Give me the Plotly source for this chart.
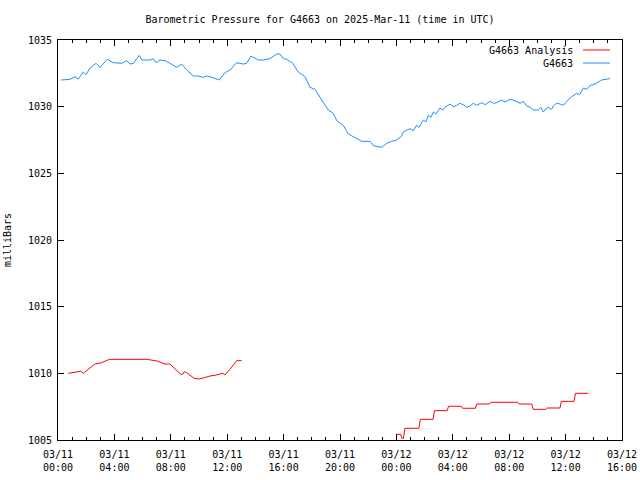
import pandas as pd
import plotly.graph_objects as go

BASE = pd.Timestamp("2025-03-11 00:00")

# G4663 observed (hours since 03/11 00:00 UTC, millibars)
obs_hours = [0.21, 0.85, 1.21, 1.44, 1.79, 1.99, 2.27, 2.70, 2.98, 3.50, 3.92, 4.52, 4.87, 5.11,
             5.34, 5.77, 5.94, 6.52, 6.76, 6.95, 7.23, 7.59, 7.94, 8.42, 8.77, 9.13, 9.60, 9.95,
             10.30, 10.55, 10.78, 11.13, 11.44, 11.84, 12.20, 12.67, 13.14, 13.38, 13.69, 14.21,
             14.56, 15.04, 15.51, 15.74, 15.98, 16.22, 16.65, 17.04, 17.52, 17.87, 18.23, 18.70,
             19.17, 19.52, 19.77, 20.23, 20.59, 20.94, 21.54, 22.13, 22.41, 22.96, 23.31, 23.67,
             24.02, 24.38, 24.49, 24.96, 25.20, 25.44, 25.60, 25.91, 26.10, 26.26, 26.45, 26.62,
             26.80, 27.09, 27.30, 27.45, 27.80, 28.00, 28.28, 28.50, 28.74, 29.00, 29.22, 29.45,
             29.69, 30.05, 30.30, 30.64, 30.90, 31.11, 31.47, 31.70, 32.06, 32.41, 32.77, 33.00,
             33.24, 33.50, 33.71, 34.06, 34.25, 34.42, 34.60, 34.77, 35.00, 35.13, 35.35, 35.60,
             35.85, 36.08, 36.43, 36.79, 37.00, 37.26, 37.50, 37.74, 38.09, 38.56, 39.15]
obs_mb = [1032.0, 1032.05, 1032.25, 1032.07, 1032.6, 1032.4, 1032.9, 1033.25, 1032.95, 1033.55,
          1033.3, 1033.25, 1033.45, 1033.2, 1033.25, 1033.85, 1033.5, 1033.5, 1033.6, 1033.3,
          1033.5, 1033.45, 1033.25, 1032.95, 1033.2, 1032.75, 1032.3, 1032.3, 1032.2, 1032.3,
          1032.25, 1032.1, 1032.0, 1032.55, 1032.75, 1033.3, 1033.2, 1033.25, 1033.8, 1033.5,
          1033.5, 1033.6, 1033.95, 1033.95, 1033.6, 1033.55, 1033.25, 1032.6, 1032.25, 1031.45,
          1031.3, 1030.5, 1029.75, 1029.5, 1028.95, 1028.6, 1027.95, 1027.75, 1027.4, 1027.4,
          1027.05, 1026.95, 1027.25, 1027.4, 1027.5, 1027.8, 1028.1, 1028.35, 1028.2, 1028.6,
          1028.45, 1029.0, 1028.85, 1029.35, 1029.2, 1029.6, 1029.45, 1029.9, 1029.75, 1029.95,
          1030.2, 1030.0, 1030.1, 1030.25, 1030.15, 1029.95, 1030.05, 1030.25, 1030.1, 1030.3,
          1030.15, 1030.4, 1030.25, 1030.3, 1030.5, 1030.35, 1030.55, 1030.45, 1030.25, 1030.4,
          1030.05, 1029.95, 1029.75, 1029.75, 1029.95, 1029.6, 1029.85, 1029.95, 1029.8, 1030.05,
          1030.25, 1030.2, 1030.1, 1030.4, 1030.75, 1031.0, 1030.9, 1031.4, 1031.3, 1031.6,
          1031.7, 1032.0, 1032.1]

# G4663 Analysis (None separates the two segments)
ana_hours = [0.73, 1.21, 1.61, 1.79, 2.04, 2.62, 3.10, 3.64, 6.29, 7.00, 7.59, 7.94, 8.70, 8.84,
             8.96, 9.13, 9.65, 9.95, 10.30, 10.78, 11.26, 11.68, 11.84, 12.20, 12.67, 13.03, None,
             24.0, 24.3, 24.4, 24.5, 24.6, 25.6, 25.7, 26.6, 26.7, 27.6, 27.7, 28.6, 28.7, 29.6,
             29.7, 30.6, 30.7, 32.6, 32.7, 33.6, 33.7, 34.6, 34.7, 35.6, 35.7, 36.6, 36.7, 37.6]
ana_mb = [1010.0, 1010.07, 1010.15, 1010.0, 1010.2, 1010.7, 1010.8, 1011.05, 1011.05, 1010.93,
          1010.7, 1010.7, 1009.93, 1009.93, 1010.13, 1010.05, 1009.63, 1009.57, 1009.65, 1009.8,
          1009.88, 1010.0, 1009.88, 1010.3, 1010.95, 1010.95, None,
          1005.43, 1005.43, 1005.12, 1005.12, 1005.88, 1005.88, 1006.55, 1006.55, 1007.2, 1007.2,
          1007.53, 1007.53, 1007.38, 1007.38, 1007.7, 1007.7, 1007.83, 1007.83, 1007.7, 1007.7,
          1007.3, 1007.3, 1007.4, 1007.4, 1007.9, 1007.9, 1008.5, 1008.5]

tick_hours = [0, 4, 8, 12, 16, 20, 24, 28, 32, 36, 40]
tick_text = ["03/11<br>00:00", "03/11<br>04:00", "03/11<br>08:00", "03/11<br>12:00",
             "03/11<br>16:00", "03/11<br>20:00", "03/12<br>00:00", "03/12<br>04:00",
             "03/12<br>08:00", "03/12<br>12:00", "03/12<br>16:00"]
y_ticks = [1005, 1010, 1015, 1020, 1025, 1030, 1035]

legend_names = ["G4663 Analysis", "G4663"]
RED = "#ff0000"
BLUE = "#1e90ff"


def to_time(hs):
    return [None if h is None else BASE + pd.Timedelta(hours=h) for h in hs]


FONT = "DejaVu Sans Mono"

fig = go.Figure()
fig.add_trace(go.Scatter(x=to_time(ana_hours), y=ana_mb, mode="lines", name=legend_names[0],
                         line=dict(color=RED, width=1), connectgaps=False))
fig.add_trace(go.Scatter(x=to_time(obs_hours), y=obs_mb, mode="lines", name=legend_names[1],
                         line=dict(color=BLUE, width=1)))

fig.update_layout(
    width=640, height=480,
    margin=dict(l=58, r=18, t=40, b=40, autoexpand=False),
    paper_bgcolor="white", plot_bgcolor="white",
    showlegend=False,
    font=dict(family=FONT, size=10, color="black"),
    title=dict(text="Barometric Pressure for G4663 on 2025-Mar-11 (time in UTC)",
               x=0.5, xanchor="center", y=1 - 19 / 480, yanchor="middle",
               font=dict(family=FONT, size=10, color="black")),
)
fig.update_xaxes(
    range=[BASE, BASE + pd.Timedelta(hours=40)],
    tickvals=to_time(tick_hours), ticktext=tick_text,
    ticks="inside", ticklen=6, tickcolor="black", tickwidth=1,
    minor=dict(dtick=3600000, ticks="inside", ticklen=3, tickcolor="black", tickwidth=1),
    showline=True, linecolor="black", linewidth=1, mirror="ticks",
    showgrid=False, zeroline=False, automargin=False,
    ticklabelstandoff=5,
    tickfont=dict(family=FONT, size=10),
)
fig.update_yaxes(
    range=[1005, 1035], tickvals=y_ticks, ticktext=[str(v) for v in y_ticks],
    ticks="inside", ticklen=6, tickcolor="black", tickwidth=1,
    showline=True, linecolor="black", linewidth=1, mirror="ticks",
    showgrid=False, zeroline=False, automargin=False,
    ticklabelstandoff=3,
    title=dict(text="milliBars", font=dict(family=FONT, size=10), standoff=14),
    tickfont=dict(family=FONT, size=10),
)

# gnuplot-style legend: text right-aligned, line sample to its right
for i, (name, col) in enumerate(zip(legend_names, [RED, BLUE])):
    yp = 1 - (10 + 13 * i) / 400
    fig.add_annotation(text=name, xref="paper", yref="paper", x=(575 - 58) / 564, y=yp,
                       xanchor="right", yanchor="middle", showarrow=False,
                       font=dict(family=FONT, size=10, color="black"))
    fig.add_shape(type="line", xref="paper", yref="paper",
                  x0=(583 - 58) / 564, x1=(610 - 58) / 564, y0=yp, y1=yp,
                  line=dict(color=col, width=1))

fig.write_html("out.html")
